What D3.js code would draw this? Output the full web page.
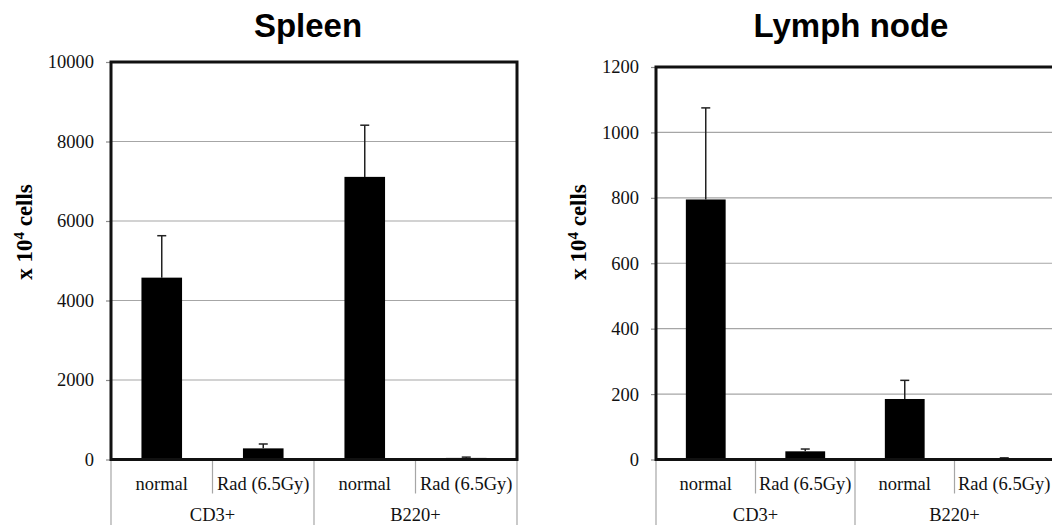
<!DOCTYPE html>
<html>
<head>
<meta charset="utf-8">
<script src="https://cdn.jsdelivr.net/npm/d3@7"></script>
<style>
  html, body { margin: 0; padding: 0; background: #fff; }
  svg { display: block; }
</style>
</head>
<body>
<svg id="chart" width="1052" height="525"></svg>
<script>
// Cell counts (x 10^4 cells), mean with upward SD bar, per marker and treatment
const groups = ["CD3+", "B220+"];
const conditions = ["normal", "Rad (6.5Gy)"];

const spleenMean = [4575, 280, 7110, 40];
const spleenErr  = [1055, 110, 1300, 20];
const spleenTicks = [0, 2000, 4000, 6000, 8000, 10000];

const lymphMean = [795, 25, 185, 4];
const lymphErr  = [280, 7, 57, 1];
const lymphTicks = [0, 200, 400, 600, 800, 1000, 1200];

const svg = d3.select("#chart");

function drawPanel(opts) {
  const { title, titleX, left, right, top, bottom, yMax, ticks, means, errs, yTitleX } = opts;
  const g = svg.append("g");

  const bars = [];
  groups.forEach((grp, gi) => {
    conditions.forEach((cond, ci) => {
      const i = gi * conditions.length + ci;
      bars.push({ key: grp + "|" + cond, group: grp, cond: cond, mean: means[i], err: errs[i] });
    });
  });

  const x = d3.scaleBand()
    .domain(bars.map(d => d.key))
    .range([left, right])
    .paddingInner(0.6)
    .paddingOuter(0.3);

  const y = d3.scaleLinear().domain([0, yMax]).range([bottom, top]);

  // horizontal gridlines
  g.append("g")
    .selectAll("line")
    .data(ticks.filter(t => t > 0 && t < yMax))
    .join("line")
    .attr("x1", left).attr("x2", right)
    .attr("y1", d => y(d)).attr("y2", d => y(d))
    .attr("stroke", "#a6a6a6")
    .attr("stroke-width", 1.2);

  // y axis ticks and labels
  const yAxis = d3.axisLeft(y)
    .tickValues(ticks)
    .tickSize(5)
    .tickPadding(12)
    .tickFormat(d3.format("d"));
  const ya = g.append("g").attr("transform", `translate(${left},0)`).call(yAxis);
  ya.select(".domain").remove();
  ya.selectAll(".tick line").attr("stroke", "#8c8c8c").attr("stroke-width", 1.2);
  ya.selectAll(".tick text")
    .attr("fill", "#111")
    .style("font-family", "'Liberation Serif', 'Times New Roman', serif")
    .style("font-size", "18.5px");

  // bars
  g.append("g")
    .selectAll("rect")
    .data(bars)
    .join("rect")
    .attr("x", d => x(d.key))
    .attr("width", x.bandwidth())
    .attr("y", d => y(d.mean))
    .attr("height", d => y(0) - y(d.mean))
    .attr("fill", "#000");

  // error bars (upper only)
  const eb = g.append("g").attr("stroke", "#222").attr("stroke-width", 1.5);
  eb.selectAll("line.stem")
    .data(bars)
    .join("line")
    .attr("class", "stem")
    .attr("x1", d => x(d.key) + x.bandwidth() / 2)
    .attr("x2", d => x(d.key) + x.bandwidth() / 2)
    .attr("y1", d => y(d.mean))
    .attr("y2", d => y(d.mean + d.err));
  eb.selectAll("line.cap")
    .data(bars)
    .join("line")
    .attr("class", "cap")
    .attr("x1", d => x(d.key) + x.bandwidth() / 2 - 4.5)
    .attr("x2", d => x(d.key) + x.bandwidth() / 2 + 4.5)
    .attr("y1", d => y(d.mean + d.err))
    .attr("y2", d => y(d.mean + d.err));

  // plot area border
  g.append("rect")
    .attr("x", left).attr("y", top)
    .attr("width", right - left).attr("height", bottom - top)
    .attr("fill", "none")
    .attr("stroke", "#111")
    .attr("stroke-width", 3);

  // multi-level category axis
  const step = x.step();
  const groupWidth = step * conditions.length;
  const cat = g.append("g").attr("stroke", "#a6a6a6").attr("stroke-width", 1.2);
  // outer dividers between marker groups, full height
  const outer = d3.range(groups.length + 1).map(i => left + i * groupWidth);
  cat.selectAll("line.outer")
    .data(outer)
    .join("line")
    .attr("class", "outer")
    .attr("x1", d => d).attr("x2", d => d)
    .attr("y1", bottom + 1.5).attr("y2", 525);
  // inner dividers between conditions
  const inner = [];
  groups.forEach((grp, gi) => {
    for (let c = 1; c < conditions.length; c++) inner.push(left + gi * groupWidth + c * step);
  });
  cat.selectAll("line.inner")
    .data(inner)
    .join("line")
    .attr("class", "inner")
    .attr("x1", d => d).attr("x2", d => d)
    .attr("y1", bottom + 1.5).attr("y2", bottom + 34);

  const labelFont = "'Liberation Serif', 'Times New Roman', serif";
  g.append("g")
    .selectAll("text")
    .data(bars)
    .join("text")
    .attr("x", d => x(d.key) + x.bandwidth() / 2)
    .attr("y", bottom + 30)
    .attr("text-anchor", "middle")
    .attr("fill", "#111")
    .style("font-family", labelFont)
    .style("font-size", "18.5px")
    .text(d => d.cond);

  g.append("g")
    .selectAll("text")
    .data(groups)
    .join("text")
    .attr("x", (d, i) => left + i * groupWidth + groupWidth / 2)
    .attr("y", bottom + 61)
    .attr("text-anchor", "middle")
    .attr("fill", "#111")
    .style("font-family", labelFont)
    .style("font-size", "18.5px")
    .text(d => d);

  // panel title
  g.append("text")
    .attr("x", titleX)
    .attr("y", 37)
    .attr("text-anchor", "middle")
    .attr("fill", "#000")
    .style("font-family", "'Liberation Sans', Arial, sans-serif")
    .style("font-weight", "bold")
    .style("font-size", "33px")
    .text(title);

  // y axis title
  const yt = g.append("text")
    .attr("transform", `translate(${yTitleX},232) rotate(-90)`)
    .attr("text-anchor", "middle")
    .attr("fill", "#000")
    .style("font-family", labelFont)
    .style("font-weight", "bold")
    .style("font-size", "23px");
  yt.append("tspan").text("x 10");
  yt.append("tspan").attr("dy", -8).style("font-size", "15px").text("4");
  yt.append("tspan").attr("dy", 8).text(" cells");
}

drawPanel({
  title: "Spleen", titleX: 308,
  left: 111, right: 517, top: 62, bottom: 459.5,
  yMax: 10000, ticks: spleenTicks,
  means: spleenMean, errs: spleenErr,
  yTitleX: 32
});

drawPanel({
  title: "Lymph node", titleX: 851,
  left: 656, right: 1054, top: 67, bottom: 459.5,
  yMax: 1200, ticks: lymphTicks,
  means: lymphMean, errs: lymphErr,
  yTitleX: 586
});
</script>
</body>
</html>
